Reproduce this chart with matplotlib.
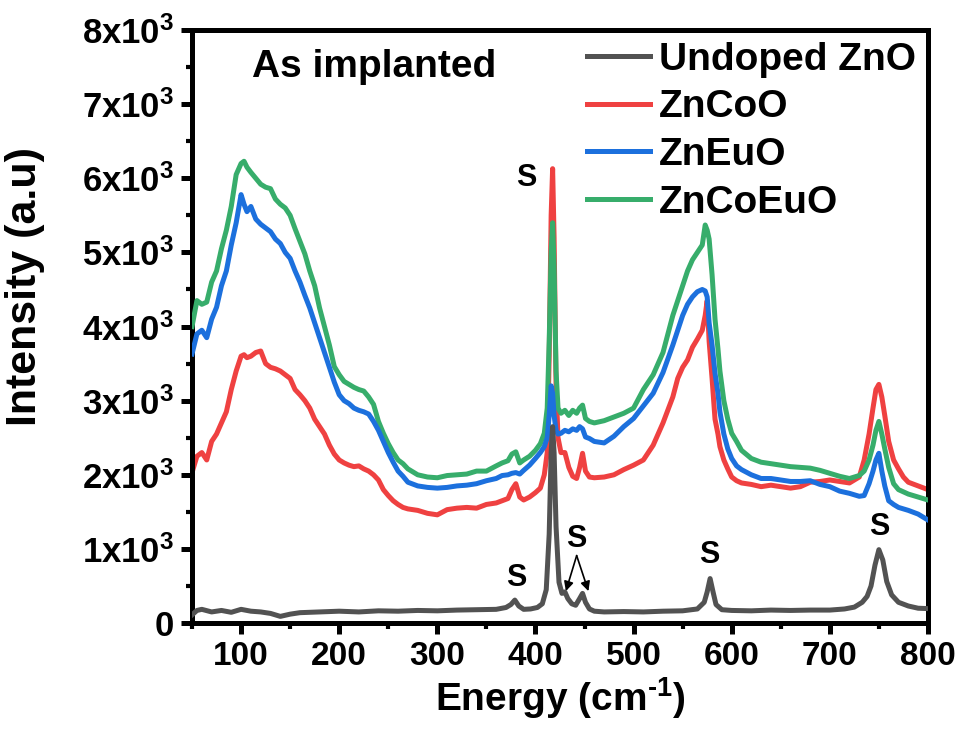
import matplotlib
matplotlib.use("Agg")
import matplotlib.pyplot as plt
from matplotlib.ticker import MultipleLocator, FixedLocator
from matplotlib.lines import Line2D

plt.rcParams['font.family'] = ['Liberation Sans', 'DejaVu Sans']
plt.rcParams['font.weight'] = 'bold'
plt.rcParams['mathtext.fontset'] = 'custom'
plt.rcParams['mathtext.rm'] = 'Liberation Sans:bold'
plt.rcParams['mathtext.bf'] = 'Liberation Sans:bold'
plt.rcParams['mathtext.default'] = 'rm'

# Raman data (cm-1, a.u.)
x_und = [50, 55, 60, 70, 80, 90, 100, 110, 120, 130, 140, 150, 160, 180, 200, 220, 240,
         260, 280, 300, 320, 340, 360, 370, 375, 379, 383, 388, 395, 402, 407, 411, 414,
         416, 417.5, 419, 421, 424, 427, 430, 433, 437, 441, 445, 448, 451, 455, 460, 470,
         490, 510, 530, 550, 565, 572, 575, 578, 581, 584, 590, 600, 620, 640, 660, 680,
         700, 715, 725, 733, 738, 742, 746, 750, 754, 758, 763, 770, 780, 790, 800]
y_und = [110, 170, 185, 150, 170, 145, 185, 160, 150, 130, 90, 120, 140, 150, 160, 150, 165,
         160, 170, 165, 175, 180, 185, 210, 250, 310, 230, 185, 190, 210, 260, 450, 1200,
         2300, 2650, 2300, 1300, 550, 400, 420, 330, 260, 240, 330, 400, 280, 190, 160, 150,
         155, 150, 160, 165, 190, 280, 420, 600, 420, 250, 180, 170, 165, 175, 170, 175,
         175, 190, 215, 280, 360, 500, 780, 990, 850, 560, 380, 280, 230, 200, 195]

x_dop = [50, 55, 60, 65, 70, 75, 80, 85, 90, 95, 100, 103, 106, 110, 115, 120, 125, 130,
         135, 140, 145, 150, 155, 160, 165, 170, 175, 180, 185, 190, 195, 200, 205, 210,
         215, 220, 225, 230, 235, 240, 245, 250, 255, 260, 265, 270, 280, 290, 300, 310,
         320, 330, 340, 350, 360, 366, 372, 376, 380, 384, 388, 394, 400, 405, 409, 412,
         414, 416, 417.5, 419, 421, 423, 426, 430, 434, 438, 442, 445, 448, 451, 455, 460,
         470, 480, 490, 500, 510, 520, 530, 540, 545, 550, 555, 560, 565, 570, 573, 575,
         577, 580, 583, 586, 588, 592, 596, 600, 605, 610, 620, 630, 640, 650, 660, 670,
         680, 690, 700, 710, 720, 730, 735, 740, 744, 747, 750, 753, 756, 760, 765, 770,
         775, 780, 790, 800]

y_co = [2030, 2250, 2300, 2200, 2450, 2550, 2700, 2850, 3150, 3400, 3600, 3620, 3580, 3600,
        3650, 3670, 3500, 3450, 3430, 3400, 3350, 3300, 3150, 3080, 3000, 2900, 2750, 2650,
        2550, 2400, 2280, 2200, 2160, 2130, 2110, 2120, 2080, 2050, 2000, 1930, 1800, 1720,
        1650, 1600, 1560, 1540, 1520, 1480, 1460, 1530, 1550, 1560, 1550, 1600, 1620, 1650,
        1680, 1800, 1880, 1700, 1660, 1700, 1760, 1820, 2000, 2300, 3600, 5500, 6130, 5200,
        3200, 2500, 2300, 2300, 2100, 1980, 1950, 2100, 2290, 2050, 1970, 1960, 1970, 2000,
        2070, 2130, 2200, 2400, 2700, 3050, 3300, 3450, 3550, 3720, 3830, 3950, 4150, 4350,
        3800, 3300, 2750, 2550, 2380, 2200, 2080, 1970, 1920, 1890, 1870, 1840, 1860, 1840,
        1820, 1840, 1900, 1910, 1930, 1910, 1890, 1970, 2200, 2550, 2900, 3150, 3220, 3050,
        2800, 2450, 2200, 2080, 1970, 1900, 1850, 1800]

y_eu = [3630, 3900, 3950, 3850, 4100, 4260, 4550, 4750, 5100, 5400, 5780, 5650, 5550, 5620,
        5450, 5380, 5330, 5280, 5180, 5120, 5000, 4920, 4750, 4600, 4420, 4250, 4050, 3850,
        3650, 3450, 3250, 3080, 3000, 2960, 2900, 2870, 2850, 2820, 2720, 2600, 2450, 2300,
        2170, 2050, 1980, 1900, 1850, 1830, 1820, 1830, 1850, 1860, 1880, 1920, 1950, 1990,
        2000, 2020, 2030, 2010, 2060, 2130, 2220, 2300, 2380, 2500, 2800, 3200, 3100, 2800,
        2600, 2550, 2560, 2600, 2580, 2620, 2600, 2650, 2620, 2510, 2490, 2450, 2430, 2520,
        2650, 2760, 2930, 3100, 3380, 3750, 3950, 4150, 4300, 4400, 4470, 4500, 4480, 4400,
        4050, 3750, 3370, 3100, 2850, 2550, 2350, 2220, 2120, 2070, 2000, 1950, 1950, 1930,
        1910, 1910, 1920, 1870, 1840, 1780, 1750, 1710, 1720, 1880, 2050, 2200, 2290, 2050,
        1850, 1650, 1600, 1560, 1540, 1520, 1470, 1390]

y_coeu = [4000, 4350, 4300, 4330, 4600, 4750, 5050, 5300, 5620, 6050, 6200, 6230, 6150,
          6080, 6000, 5920, 5880, 5860, 5720, 5650, 5600, 5500, 5320, 5150, 4980, 4750, 4550,
          4250, 4000, 3750, 3460, 3350, 3260, 3220, 3180, 3150, 3130, 3050, 2950, 2720, 2560,
          2420, 2300, 2200, 2150, 2080, 2000, 1970, 1960, 1990, 2000, 2010, 2050, 2050, 2120,
          2160, 2190, 2280, 2310, 2160, 2200, 2250, 2330, 2420, 2560, 2900, 3800, 5000, 5400,
          4800, 3400, 2900, 2830, 2870, 2800, 2870, 2830, 2900, 2940, 2760, 2720, 2700, 2730,
          2780, 2830, 2900, 3150, 3350, 3650, 4150, 4350, 4550, 4750, 4900, 5000, 5100, 5370,
          5300, 5180, 4700, 4100, 3700, 3400, 3000, 2750, 2560, 2450, 2330, 2220, 2170, 2150,
          2130, 2110, 2100, 2090, 2060, 2020, 1980, 1950, 1990, 2050, 2200, 2400, 2600, 2720,
          2550, 2350, 2100, 1880, 1800, 1770, 1740, 1700, 1660]

labels = ['Undoped ZnO', 'ZnCoO', 'ZnEuO', 'ZnCoEuO']
colors = ['#525252', '#ef4141', '#1c70dd', '#37ad6b']

yticks = [0, 1000, 2000, 3000, 4000, 5000, 6000, 7000, 8000]
ytick_labels = ['0'] + ['%dx10$^{3}$' % i for i in range(1, 9)]
xticks = [100, 200, 300, 400, 500, 600, 700, 800]

fig = plt.figure(figsize=(9.62, 7.33), dpi=100)
ax = fig.add_axes([0.1996, 0.150, 0.765, 0.809])

lw = 3.6
ax.plot(x_dop, y_co, color=colors[1], lw=lw, zorder=2)
ax.plot(x_dop, y_coeu, color=colors[3], lw=lw, zorder=3)
ax.plot(x_dop, y_eu, color=colors[2], lw=lw, zorder=4)
ax.plot(x_und, y_und, color=colors[0], lw=lw, zorder=5)

ax.set_xlim(50, 800)
ax.set_ylim(0, 8000)
ax.xaxis.set_major_locator(FixedLocator(xticks))
ax.xaxis.set_minor_locator(MultipleLocator(50))
ax.set_yticks(yticks)
ax.set_yticklabels(ytick_labels)
ax.yaxis.set_minor_locator(MultipleLocator(500))

for s in ax.spines.values():
    s.set_linewidth(3.6)
ax.tick_params(which='major', direction='out', length=8, width=3.6, labelsize=25, pad=5,
               top=False, right=False)
ax.tick_params(which='minor', direction='out', length=4.5, width=3.0, top=False, right=False)
for lab in ax.get_xticklabels():
    lab.set_fontsize(24)

ax.set_xlabel(r'Energy (cm$^{\text{-1}}$)', fontsize=28, fontweight='bold', labelpad=2)
ax.set_ylabel('Intensity (a.u)', fontsize=31, fontweight='bold')
ax.yaxis.set_label_coords(-0.2, 0.567)

ax.text(111, 7500, 'As implanted', fontsize=28, fontweight='bold', va='center', ha='left')

handles = [Line2D([], [], color=c, lw=lw) for c in colors]
ax.legend(handles, labels, loc='upper right', frameon=False, fontsize=28,
          handlelength=1.6, handletextpad=0.25, labelspacing=0.3,
          borderaxespad=0.1, borderpad=0.2)

sfs = 22
ax.text(391, 6000, 'S', fontsize=sfs, fontweight='bold', ha='center', va='center')
ax.text(380, 610, 'S', fontsize=sfs, fontweight='bold', ha='center', va='center')
ax.text(577, 920, 'S', fontsize=sfs, fontweight='bold', ha='center', va='center')
ax.text(750, 1300, 'S', fontsize=sfs, fontweight='bold', ha='center', va='center')
ax.text(442, 1130, 'S', fontsize=sfs, fontweight='bold', ha='center', va='center')
for tx in [431, 454]:
    ax.annotate('', xy=(tx, 430), xytext=(442, 910),
                arrowprops=dict(arrowstyle='-|>', color='black', lw=1.2,
                                mutation_scale=14, shrinkA=0, shrinkB=0))

fig.savefig('out.png', dpi=100)
